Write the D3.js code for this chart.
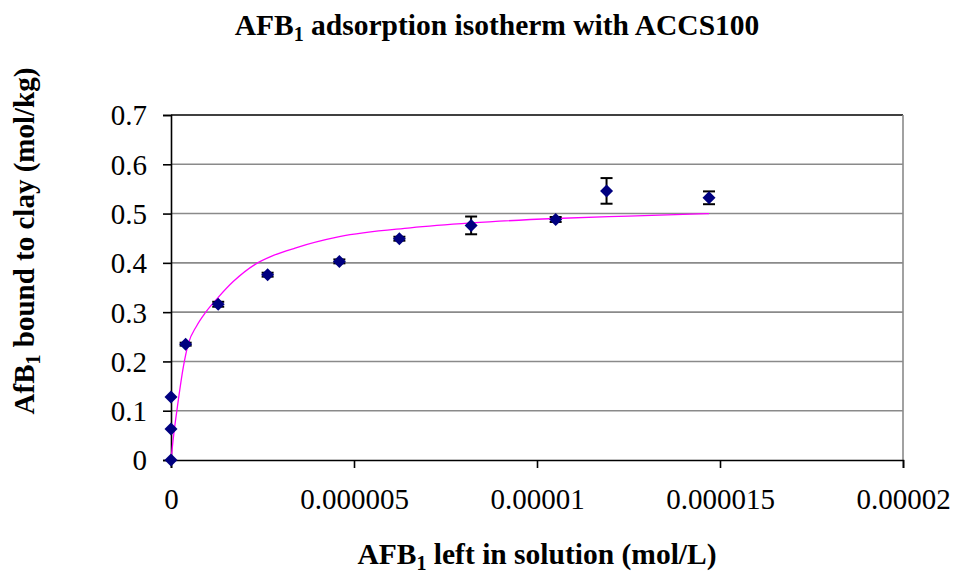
<!DOCTYPE html>
<html>
<head>
<meta charset="utf-8">
<script src="https://cdn.jsdelivr.net/npm/d3@7"></script>
<style>
  body { margin: 0; background: #fff; }
  svg text { font-family: "Liberation Serif", "Times New Roman", serif; fill: #000; }
</style>
</head>
<body>
<div id="chart"></div>
<script>
// measured points (mol/L vs mol/kg)
const concLeft = [0, 0, 0, 0.40e-6, 1.29e-6, 2.64e-6, 4.60e-6, 6.24e-6, 8.20e-6, 10.51e-6, 11.90e-6, 14.70e-6];
const boundClay = [0, 0.063, 0.128, 0.235, 0.316, 0.376, 0.403, 0.449, 0.476, 0.488, 0.546, 0.532];
const boundErr = [0, 0, 0, 0.003, 0.005, 0.004, 0.004, 0.004, 0.018, 0.005, 0.026, 0.013];

// fitted isotherm
const fitConc = [0, 0.08e-6, 0.16e-6, 0.34e-6, 0.47e-6, 0.7e-6, 0.95e-6, 1.29e-6, 1.7e-6, 2.3e-6, 2.8e-6, 3.39e-6, 4.6e-6, 6.54e-6, 8.2e-6, 10.5e-6, 12.5e-6, 14.7e-6];
const fitBound = [0, 0.055, 0.10, 0.19, 0.235, 0.272, 0.300, 0.330, 0.362, 0.397, 0.415, 0.430, 0.453, 0.471, 0.481, 0.490, 0.495, 0.50];

const xTicks = [0, 5e-6, 1e-5, 1.5e-5, 2e-5];
const xTickLabels = ["0", "0.000005", "0.00001", "0.000015", "0.00002"];
const yTicks = [0, 0.1, 0.2, 0.3, 0.4, 0.5, 0.6, 0.7];
const yTickLabels = ["0", "0.1", "0.2", "0.3", "0.4", "0.5", "0.6", "0.7"];

const width = 953, height = 573;
const plot = { left: 171, right: 903, top: 115, bottom: 460 };

const svg = d3.select("#chart").append("svg")
  .attr("width", width)
  .attr("height", height);

const x = d3.scaleLinear().domain([0, 2e-5]).range([plot.left, plot.right]);
const y = d3.scaleLinear().domain([0, 0.7]).range([plot.bottom, plot.top]);

// gridlines
svg.append("g")
  .selectAll("line")
  .data(yTicks.slice(1))
  .join("line")
  .attr("x1", plot.left).attr("x2", plot.right)
  .attr("y1", d => y(d)).attr("y2", d => y(d))
  .attr("stroke", d => d === 0.7 ? "#000" : "#8a8a8a")
  .attr("stroke-width", 1.6);

// right border
svg.append("line")
  .attr("x1", plot.right).attr("x2", plot.right)
  .attr("y1", plot.top).attr("y2", plot.bottom)
  .attr("stroke", "#8a8a8a").attr("stroke-width", 1.6);

// y axis
const yAxis = svg.append("g")
  .attr("transform", `translate(${plot.left},0)`)
  .call(d3.axisLeft(y).tickValues(yTicks).tickFormat((d, i) => yTickLabels[i]).tickSize(8).tickPadding(16));
yAxis.select(".domain").attr("stroke", "#000").attr("stroke-width", 1.6);
yAxis.selectAll(".tick line").attr("stroke", "#000").attr("stroke-width", 1.6);
yAxis.selectAll(".tick text")
  .style("font-family", "Liberation Serif, serif")
  .style("font-size", "29px")
  .attr("dy", "0.34em");

// x axis
const xAxis = svg.append("g")
  .attr("transform", `translate(0,${plot.bottom})`)
  .call(d3.axisBottom(x).tickValues(xTicks).tickFormat((d, i) => xTickLabels[i]).tickSize(8).tickPadding(20));
xAxis.select(".domain").attr("stroke", "#000").attr("stroke-width", 1.6);
xAxis.selectAll(".tick line").attr("stroke", "#000").attr("stroke-width", 1.6);
xAxis.selectAll(".tick text")
  .style("font-family", "Liberation Serif, serif")
  .style("font-size", "29px");

// fitted curve
const line = d3.line()
  .x((d, i) => x(fitConc[i]))
  .y((d, i) => y(fitBound[i]))
  .curve(d3.curveMonotoneX);

svg.append("path")
  .datum(fitConc)
  .attr("d", line)
  .attr("fill", "none")
  .attr("stroke", "#ff00ff")
  .attr("stroke-width", 1.3);

const points = concLeft.map((c, i) => ({ c, q: boundClay[i], e: boundErr[i] }));

// error bars
const bars = svg.append("g").selectAll("g")
  .data(points.filter(d => d.e > 0))
  .join("g")
  .attr("stroke", "#000")
  .attr("stroke-width", 2);
bars.append("line")
  .attr("x1", d => x(d.c)).attr("x2", d => x(d.c))
  .attr("y1", d => y(d.q - d.e)).attr("y2", d => y(d.q + d.e));
bars.append("line")
  .attr("x1", d => x(d.c) - 6).attr("x2", d => x(d.c) + 6)
  .attr("y1", d => y(d.q + d.e)).attr("y2", d => y(d.q + d.e));
bars.append("line")
  .attr("x1", d => x(d.c) - 6).attr("x2", d => x(d.c) + 6)
  .attr("y1", d => y(d.q - d.e)).attr("y2", d => y(d.q - d.e));

// diamonds
const r = 6.5;
svg.append("g").selectAll("path")
  .data(points)
  .join("path")
  .attr("transform", d => `translate(${x(d.c)},${y(d.q)})`)
  .attr("d", `M0,${-r}L${r},0L0,${r}L${-r},0Z`)
  .attr("fill", "#000080");

// titles
svg.append("text")
  .attr("x", 497).attr("y", 35)
  .attr("text-anchor", "middle")
  .style("font-size", "29.5px").style("font-weight", "bold")
  .call(t => {
    t.append("tspan").text("AFB");
    t.append("tspan").text("1").style("font-size", "20px").attr("dy", 6);
    t.append("tspan").text(" adsorption isotherm with ACCS100").attr("dy", -6);
  });

svg.append("text")
  .attr("x", 537).attr("y", 564)
  .attr("text-anchor", "middle")
  .style("font-size", "29.5px").style("font-weight", "bold")
  .call(t => {
    t.append("tspan").text("AFB");
    t.append("tspan").text("1").style("font-size", "20px").attr("dy", 6);
    t.append("tspan").text(" left in solution (mol/L)").attr("dy", -6);
  });

svg.append("text")
  .attr("transform", "translate(34,241) rotate(-90)")
  .attr("text-anchor", "middle")
  .style("font-size", "29px").style("font-weight", "bold")
  .call(t => {
    t.append("tspan").text("AfB");
    t.append("tspan").text("1").style("font-size", "20px").attr("dy", 6);
    t.append("tspan").text(" bound to clay (mol/kg)").attr("dy", -6);
  });
</script>
</body>
</html>
